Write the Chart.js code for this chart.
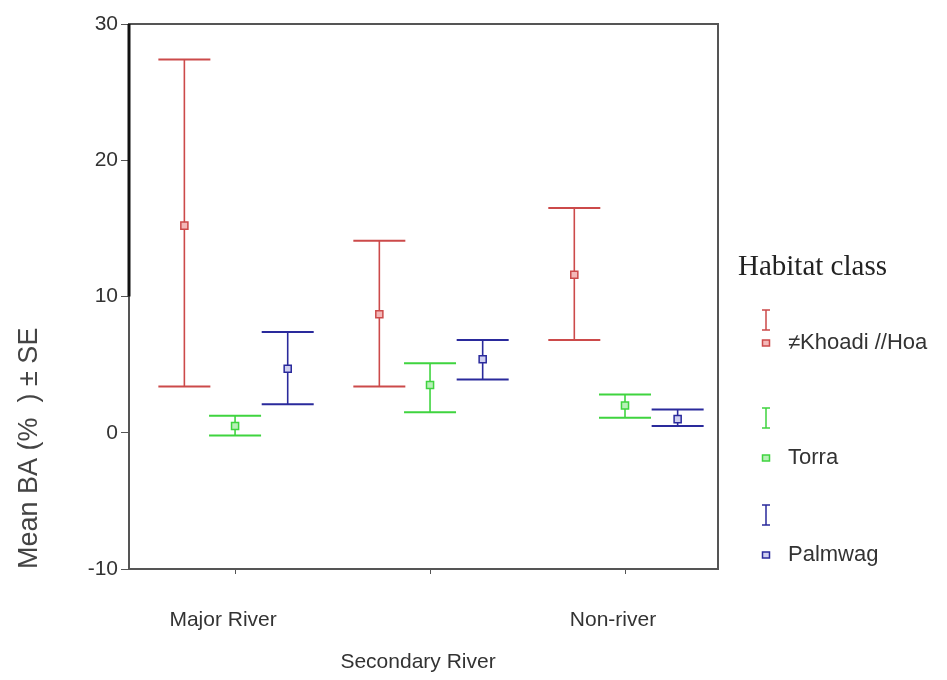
<!DOCTYPE html>
<html>
<head>
<meta charset="utf-8">
<title>Mean BA by habitat class</title>
<script src="https://cdn.jsdelivr.net/npm/chart.js@4/dist/chart.umd.min.js"></script>
<style>
    html, body { margin: 0; padding: 0; background: #fff; }
    #wrap { width: 947px; height: 680px; }
</style>
</head>
<body>
<div id="wrap"><canvas id="baChart" width="947" height="680"></canvas></div>
<script>
// Chart data
const categories = ['Major River', 'Secondary River', 'Non-river'];
const seriesNames = ['\u2260Khoadi //Hoa', 'Torra', 'Palmwag'];

const khoadiMean = [15.2, 8.7, 11.6];
const khoadiLow  = [3.4, 3.4, 6.8];
const khoadiHigh = [27.4, 14.1, 16.5];

const torraMean = [0.5, 3.5, 2.0];
const torraLow  = [-0.2, 1.5, 1.1];
const torraHigh = [1.25, 5.1, 2.8];

const palmMean = [4.7, 5.4, 1.0];
const palmLow  = [2.1, 3.9, 0.5];
const palmHigh = [7.4, 6.8, 1.7];

const yTicks = [-10, 0, 10, 20, 30];

// Styling
const lineColors = ['#cc4a4a', '#3fd43f', '#2a2a9c'];
const fillColors = ['#f4b8b8', '#b8f0b8', '#d0d0f0'];
const seriesOffset = [-0.26, 0, 0.27];
const capHalf = 26;
const sansFont = '"Liberation Sans", Arial, sans-serif';

function buildPoints(mean, low, high, s) {
    return mean.map((m, i) => ({ x: i + 1 + seriesOffset[s], y: m, lo: low[i], hi: high[i] }));
}

const allMeans = [khoadiMean, torraMean, palmMean];
const allLows = [khoadiLow, torraLow, palmLow];
const allHighs = [khoadiHigh, torraHigh, palmHigh];

const datasets = seriesNames.map((name, s) => ({
    label: name,
    data: buildPoints(allMeans[s], allLows[s], allHighs[s], s),
    borderColor: lineColors[s],
    backgroundColor: fillColors[s],
    pointStyle: 'rect',
    pointRadius: 5,
    pointBorderWidth: 1.5,
    showLine: false
}));

// Error bars drawn through the chart scales
const errorBars = {
    id: 'errorBars',
    beforeDatasetsDraw(chart) {
        const { ctx, scales: { x, y } } = chart;
        chart.data.datasets.forEach(ds => {
            ds.data.forEach(p => {
                const px = x.getPixelForValue(p.x);
                const top = y.getPixelForValue(p.hi);
                const bot = y.getPixelForValue(p.lo);
                ctx.save();
                ctx.strokeStyle = ds.borderColor;
                ctx.lineWidth = 1.6;
                ctx.beginPath();
                ctx.moveTo(px, top);
                ctx.lineTo(px, bot);
                ctx.stroke();
                ctx.lineWidth = 2;
                ctx.beginPath();
                ctx.moveTo(px - capHalf, top);
                ctx.lineTo(px + capHalf, top);
                ctx.moveTo(px - capHalf, bot);
                ctx.lineTo(px + capHalf, bot);
                ctx.stroke();
                ctx.restore();
            });
        });
    }
};

// Box frame (top + right) and the darker upper part of the y axis
const frame = {
    id: 'frame',
    afterDraw(chart) {
        const { ctx, chartArea: a, scales: { y } } = chart;
        ctx.save();
        ctx.strokeStyle = '#555';
        ctx.lineWidth = 2;
        ctx.beginPath();
        ctx.moveTo(a.left, a.top);
        ctx.lineTo(a.right, a.top);
        ctx.lineTo(a.right, a.bottom);
        ctx.stroke();
        ctx.strokeStyle = '#111';
        ctx.lineWidth = 3;
        ctx.beginPath();
        ctx.moveTo(a.left, y.getPixelForValue(30));
        ctx.lineTo(a.left, y.getPixelForValue(10));
        ctx.stroke();
        ctx.restore();
    }
};

// Legend on the right: "Habitat class", then I-bar and square per series
const legendBox = {
    id: 'legendBox',
    afterDraw(chart) {
        const ctx = chart.ctx;
        const iconX = 766;
        const textX = 788;
        const barY = [320, 418, 515];
        const labelY = [343, 458, 555];
        ctx.save();
        ctx.fillStyle = '#222';
        ctx.font = '29px "Liberation Serif", "Times New Roman", serif';
        ctx.textBaseline = 'middle';
        ctx.fillText('Habitat class', 738, 267);

        ctx.font = '22px ' + sansFont;
        seriesNames.forEach((name, s) => {
            const c = lineColors[s];
            ctx.strokeStyle = c;
            ctx.lineWidth = 1.5;
            ctx.beginPath();
            ctx.moveTo(iconX, barY[s] - 10);
            ctx.lineTo(iconX, barY[s] + 10);
            ctx.moveTo(iconX - 4, barY[s] - 10);
            ctx.lineTo(iconX + 4, barY[s] - 10);
            ctx.moveTo(iconX - 4, barY[s] + 10);
            ctx.lineTo(iconX + 4, barY[s] + 10);
            ctx.stroke();

            ctx.fillStyle = fillColors[s];
            ctx.fillRect(iconX - 3.5, labelY[s] - 3, 7, 6);
            ctx.strokeRect(iconX - 3.5, labelY[s] - 3, 7, 6);

            ctx.fillStyle = '#333';
            ctx.fillText(name, textX, labelY[s]);
        });
        ctx.restore();
    }
};

document.addEventListener('DOMContentLoaded', function() {
    const ctx = document.getElementById('baChart');

    new Chart(ctx, {
        type: 'scatter',
        data: { datasets: datasets },
        plugins: [errorBars, frame, legendBox],
        options: {
            responsive: false,
            animation: false,
            layout: { padding: { top: 24, right: 229, left: 0, bottom: 0 } },
            plugins: {
                legend: { display: false },
                tooltip: { enabled: false }
            },
            scales: {
                x: {
                    type: 'linear',
                    min: 0.456,
                    max: 3.477,
                    afterBuildTicks: scale => {
                        scale.ticks = categories.map((c, i) => ({ value: i + 1 }));
                    },
                    afterFit: scale => { scale.height = 111; },
                    grid: { drawOnChartArea: false, tickLength: 5, color: '#555' },
                    border: { color: '#555', width: 2 },
                    ticks: {
                        padding: 25,
                        labelOffset: -12,
                        color: '#333',
                        font: { family: sansFont, size: 21, lineHeight: 2.0 },
                        callback: value => {
                            const i = Math.round(value) - 1;
                            return i === 1 ? ['', categories[i]] : categories[i];
                        }
                    }
                },
                y: {
                    min: -10,
                    max: 30,
                    afterBuildTicks: scale => {
                        scale.ticks = yTicks.map(v => ({ value: v }));
                    },
                    afterFit: scale => { scale.width = 129; },
                    grid: { drawOnChartArea: false, tickLength: 8, color: '#555' },
                    border: { color: '#555', width: 2 },
                    ticks: {
                        padding: 3,
                        color: '#333',
                        font: { family: sansFont, size: 21 }
                    },
                    title: {
                        display: true,
                        text: 'Mean BA (%  ) \u00b1 SE',
                        align: 'start',
                        color: '#444',
                        padding: { top: 13, bottom: 0 },
                        font: { family: sansFont, size: 27 }
                    }
                }
            }
        }
    });
});
</script>
</body>
</html>
